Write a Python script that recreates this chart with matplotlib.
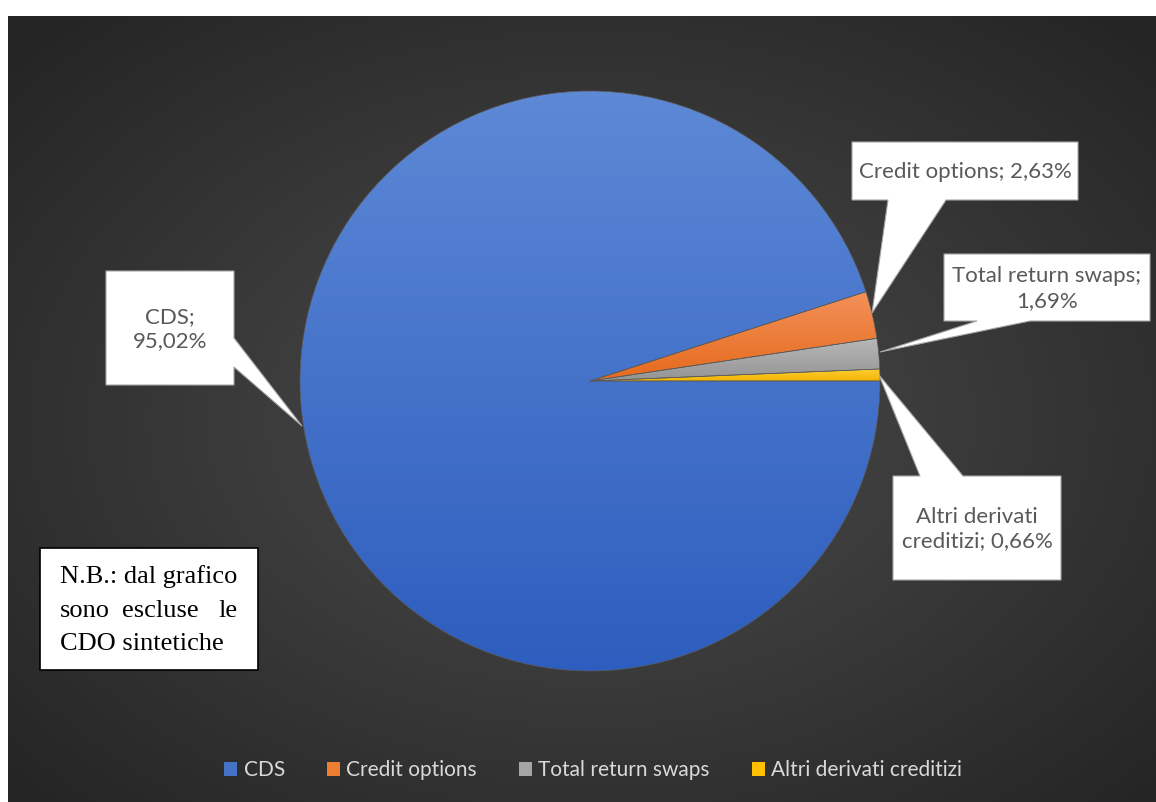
import numpy as np
import matplotlib.pyplot as plt
from matplotlib.patches import Polygon, Rectangle
from matplotlib.colors import LinearSegmentedColormap

# --- data ---
categories = ["CDS", "Credit options", "Total return swaps", "Altri derivati creditizi"]
shares = [95.02, 2.63, 1.69, 0.66]
label_texts = ["CDS;\n95,02%", "Credit options; 2,63%", "Total return swaps;\n1,69%",
               "Altri derivati\ncreditizi; 0,66%"]
colors = ["#4472c4", "#ed7d31", "#a5a5a5", "#ffc000"]
light = ["#5d89d6", "#f4915a", "#b8b8b8", "#ffd03a"]
dark = ["#2d5dbe", "#e56a1c", "#949494", "#f2b400"]
note = ["N.B.: dal grafico", "sono  escluse  le", "CDO sintetiche"]

W, H = 1156, 802
fig = plt.figure(figsize=(W / 100, H / 100), dpi=100)
fig.patch.set_facecolor("white")
ax = fig.add_axes([0, 0, 1, 1])

# radial dark background
bx0, by0 = 8, 16
yy, xx = np.mgrid[by0:H, bx0:W]
cx, cy = 590, 420
d = np.sqrt(((xx - cx) / (W / 2)) ** 2 + ((yy - cy) / (H / 2)) ** 2) / 1.35
d = np.clip(d, 0, 1)
g = 0.30 - 0.155 * d
ax.imshow(np.dstack([g, g, g]), extent=(bx0, W, H, by0), zorder=0, aspect="auto")

# pie (y axis inverted -> counterclock in data = clockwise on screen)
pc = (590, 381)
R = 290
wedges, _ = ax.pie(shares, colors=colors, startangle=0, counterclock=True,
                   center=pc, radius=R, frame=True,
                   wedgeprops=dict(linewidth=0.5, edgecolor="#5a5a5a"))
ax.set_xlim(0, W)
ax.set_ylim(H, 0)
ax.set_aspect("equal")
ax.axis("off")

for w, c1, c2 in zip(wedges, light, dark):
    v = w.get_path().vertices
    x0, x1 = v[:, 0].min(), v[:, 0].max()
    y0, y1 = v[:, 1].min(), v[:, 1].max()
    cmap = LinearSegmentedColormap.from_list("g", [c1, c2])
    grad = np.linspace(0, 1, 256).reshape(-1, 1)
    im = ax.imshow(grad, cmap=cmap, extent=(x0, x1, y1, y0), aspect="auto", zorder=2)
    im.set_clip_path(w)
    w.set_zorder(3)
    w.set_facecolor("none")

# callouts: box (x0, y0, x1, y1), pointer side, base span, tip
callouts = [
    ((106, 271, 234, 385), "right", (338, 367), (302, 426)),
    ((852, 142, 1078, 200), "bottom", (888, 946), (872, 313)),
    ((944, 254, 1150, 321), "bottom", (977, 1030), (880, 352)),
    ((893, 476, 1061, 580), "top", (920, 963), (879, 375)),
]
lab_font = dict(family=["Lato", "DejaVu Sans"], fontsize=16, color="#595959")
for (box, side, (a, b), tip), txt in zip(callouts, label_texts):
    x0, y0, x1, y1 = box
    if side == "right":
        pts = [(x0, y0), (x1, y0), (x1, a), tip, (x1, b), (x1, y1), (x0, y1)]
    elif side == "bottom":
        pts = [(x0, y0), (x1, y0), (x1, y1), (b, y1), tip, (a, y1), (x0, y1)]
    else:
        pts = [(x0, y0), (a, y0), tip, (b, y0), (x1, y0), (x1, y1), (x0, y1)]
    ax.add_patch(Polygon(pts, closed=True, facecolor="white", edgecolor="#a6a6a6",
                         linewidth=0.8, zorder=5))
    ax.text((x0 + x1) / 2, (y0 + y1) / 2 + 1, txt, ha="center", va="center",
            linespacing=1.3, zorder=6, **lab_font)

# note box
ax.add_patch(Rectangle((40, 548), 218, 122, facecolor="white", edgecolor="black",
                       linewidth=1.2, zorder=5))
nb_font = dict(family=["Liberation Serif", "DejaVu Serif"], fontsize=19, color="black",
               zorder=6, va="baseline")
ax.text(60, 583, note[0], ha="left", **nb_font)
w2 = note[1].split()
ax.text(60, 617, w2[0], ha="left", **nb_font)
ax.text(160, 617, w2[1], ha="center", **nb_font)
ax.text(238, 617, w2[2], ha="right", **nb_font)
ax.text(60, 650, note[2], ha="left", **nb_font)

# legend
handles = [Rectangle((0, 0), 1, 1, facecolor=c) for c in colors]
leg = fig.legend(handles, categories, loc="center", bbox_to_anchor=(593 / W, 1 - 770 / H),
                 ncol=4, frameon=False, handlelength=0.65, handleheight=0.65,
                 handletextpad=0.3, columnspacing=2.0,
                 prop=dict(family="Lato", size=15))
for t in leg.get_texts():
    t.set_color("#d9d9d9")

fig.savefig("out.png", dpi=100)
